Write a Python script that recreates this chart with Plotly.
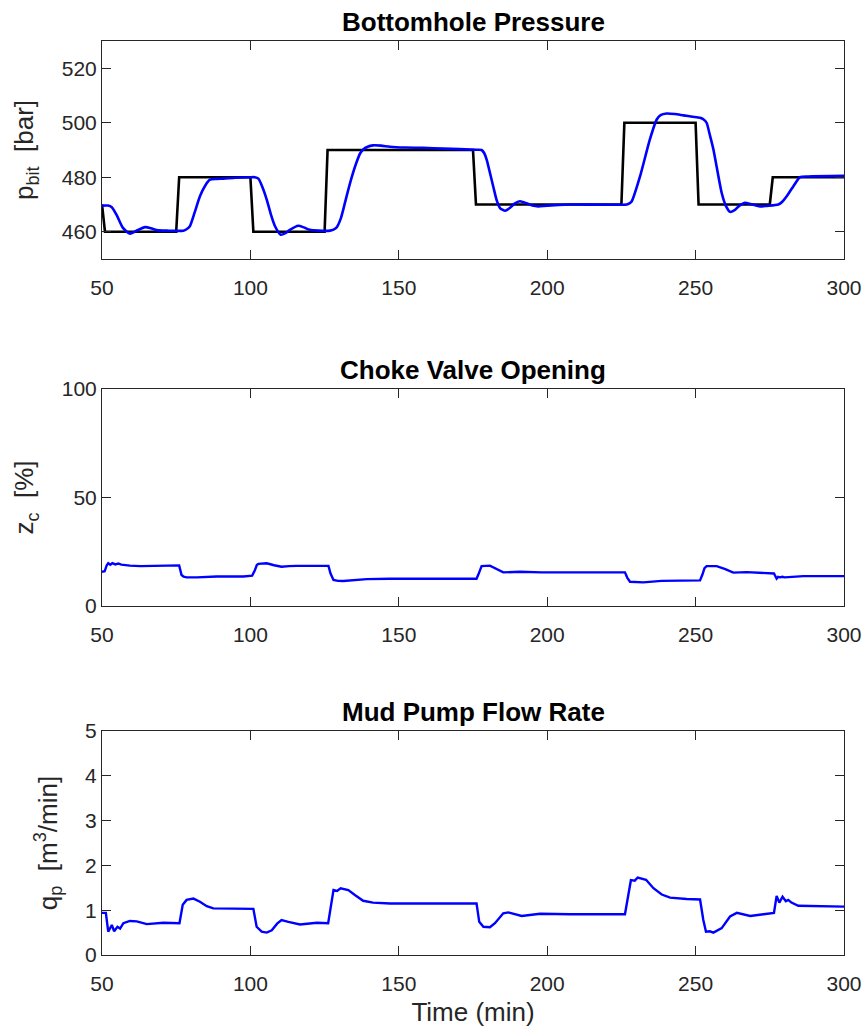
import plotly.graph_objects as go

# ---------------- data ----------------
t_ref = [50, 51, 75, 76, 100, 101, 125, 126, 175, 176, 225, 226, 250, 251, 275, 276, 300]
p_ref = [470, 460, 460, 480, 480, 460, 460, 490, 490, 470, 470, 500, 500, 470, 470, 480, 480]

t_pbit = [50, 52, 53.3, 55, 57, 59.4, 61.5, 64.5, 66.5, 68.4, 72, 77.4, 78.6, 79.6, 81.2, 83,
          84.8, 86.4, 88.5, 90.9, 95, 99.9, 101.5, 102.7, 104, 105.5, 107, 108.3, 110.2, 111.8,
          113.3, 116.1, 118, 120, 123, 126.8, 128, 129, 130.5, 132.4, 134, 135.7, 137, 138,
          139.5, 141.3, 144, 147, 152, 158.2, 165, 176.2, 177.9, 178.8, 179.6, 181.8, 183,
          184.1, 185.8, 187.5, 189, 190.8, 193, 195, 197, 200, 207.7, 226.8, 227.7, 228.5,
          231.3, 234.6, 236.9, 238.2, 240.2, 243, 245.9, 249, 251.5, 252.7, 253.7, 254.8, 256,
          258.8, 260.2, 261.6, 263, 264.8, 266.6, 268.5, 271.7, 274, 277.9, 279.2, 280.7, 283,
          285.2, 288, 300]
pbit = [469.6, 469.6, 469.0, 466, 461.5, 459.3, 460.3, 461.7, 461.3, 460.6, 460.4, 460.4, 461,
        462, 467, 473, 477, 479.1, 479.4, 479.5, 479.8, 480, 480, 479.5, 476.5, 471.8, 466, 462,
        458.9, 459.5, 460.7, 462.2, 461.6, 460.7, 460.4, 460.4, 460.8, 461.5, 465, 473, 479.5,
        485.3, 488.8, 490.2, 491.2, 491.7, 491.6, 491.2, 490.9, 490.8, 490.5, 490.1, 490, 488.8,
        486.5, 476.7, 471.5, 468.7, 467.7, 468.8, 470.3, 471.2, 470.5, 469.6, 469.3, 469.6, 470,
        470, 470.4, 471.2, 480.4, 493.9, 501.2, 502.8, 503.4, 503.2, 502.7, 502.2, 501.8, 501.2,
        500, 495.5, 490.2, 474.2, 469.5, 467.3, 467.8, 469.6, 470.6, 470.2, 469.3, 469.5, 470,
        471, 473, 476.8, 480, 480.3, 480.5]

t_zc = [50, 50.9, 51.6, 52.1, 52.8, 53.5, 54.5, 55.5, 56.5, 59.4, 63, 68.4, 72, 76, 76.5, 76.8,
        77.5, 78.5, 82, 85, 88.6, 97.6, 100.6, 101.5, 102.2, 102.7, 105.5, 108, 110.5, 113,
        115.6, 126.3, 127, 128, 129.5, 131.3, 135, 139.2, 147, 176.2, 176.8, 177.5, 177.9, 180.7,
        183, 185.2, 190.8, 198.1, 226.2, 227, 227.9, 232.4, 238.5, 251.5, 252.3, 253, 253.7,
        257.1, 260, 262.7, 267.2, 272, 276.4, 277.3, 277.8, 278.4, 279.2, 280, 283, 286.3, 300]
zc = [15.8, 16, 18.8, 19.7, 19.0, 19.8, 19.2, 19.6, 19.1, 18.6, 18.4, 18.7, 18.6, 18.7, 16.5,
      14.3, 13.5, 13.2, 13.2, 13.4, 13.6, 13.6, 14, 16.5, 19.0, 19.4, 19.7, 18.8, 18.1, 18.4,
      18.5, 18.5, 15, 12, 11.6, 11.5, 12, 12.4, 12.6, 12.6, 14.5, 17.5, 18.4, 18.6, 17.2, 15.5,
      15.8, 15.5, 15.5, 13, 11.2, 10.9, 11.6, 11.8, 14.5, 17.5, 18.4, 18.4, 17, 15.4, 15.6, 15.2,
      15, 12.6, 13.4, 13.2, 13.5, 13.2, 13.6, 13.8, 13.8]

t_qp = [50, 51.3, 52.1, 53.3, 54.1, 55.2, 56.1, 57.2, 59.4, 61.7, 65.1, 70.7, 76.1, 77.2, 78.5,
        80.8, 83, 85.3, 87.5, 95, 101, 102.1, 103.8, 105.5, 107.2, 109, 110.5, 112.8, 116.7,
        122.4, 126.2, 128, 129.2, 130.4, 133, 135.2, 138, 141.3, 147, 176.2, 177.1, 178.5, 180.7,
        182.4, 185.2, 186.9, 191.4, 197.6, 207.7, 226.2, 228.2, 229.5, 230.5, 233.3, 235.8,
        238.6, 241.4, 247, 251.5, 252.6, 253.5, 254.8, 256, 258.8, 261.6, 263.9, 268.4, 272.9,
        276.4, 277.3, 278.2, 279.3, 280.4, 281.2, 282.3, 284.6, 291.9, 300]
qp = [0.94, 0.94, 0.52, 0.67, 0.53, 0.63, 0.59, 0.71, 0.76, 0.75, 0.69, 0.72, 0.71, 1.12, 1.23,
      1.26, 1.19, 1.09, 1.04, 1.04, 1.03, 0.63, 0.52, 0.5, 0.55, 0.7, 0.78, 0.74, 0.68, 0.72,
      0.71, 1.45, 1.43, 1.49, 1.45, 1.34, 1.21, 1.17, 1.15, 1.15, 0.74, 0.63, 0.62, 0.71, 0.93,
      0.95, 0.87, 0.92, 0.91, 0.91, 1.67, 1.66, 1.73, 1.68, 1.49, 1.35, 1.28, 1.25, 1.24, 0.78,
      0.52, 0.53, 0.5, 0.6, 0.86, 0.94, 0.87, 0.91, 0.94, 1.32, 1.17, 1.3, 1.2, 1.23, 1.17, 1.1,
      1.09, 1.08]

x_ticks = [50, 100, 150, 200, 250, 300]
titles = ["Bottomhole Pressure", "Choke Valve Opening", "Mud Pump Flow Rate"]
ylabels = ["p<sub>bit</sub>  [bar]", "z<sub>c</sub>  [%]", "q<sub>p</sub>  [m<sup>3</sup>/min]"]

# ---------------- styling ----------------
FONT = "Liberation Sans, Arial, Helvetica, sans-serif"
AX = "#262626"
BLUE = "#0000FF"

fig = go.Figure()
fig.add_trace(go.Scatter(x=t_ref, y=p_ref, mode="lines", line=dict(color="black", width=2.6),
                         xaxis="x", yaxis="y", showlegend=False))
fig.add_trace(go.Scatter(x=t_pbit, y=pbit, mode="lines",
                         line=dict(color=BLUE, width=2.6, shape="spline", smoothing=0.6),
                         xaxis="x", yaxis="y", showlegend=False))
fig.add_trace(go.Scatter(x=t_zc, y=zc, mode="lines", line=dict(color=BLUE, width=2.4),
                         xaxis="x2", yaxis="y2", showlegend=False))
fig.add_trace(go.Scatter(x=t_qp, y=qp, mode="lines", line=dict(color=BLUE, width=2.4),
                         xaxis="x3", yaxis="y3", showlegend=False))

doms = [[0.7615, 1.0], [0.3818, 0.6193], [0.0, 0.2451]]
yranges = [[450, 530], [0, 100], [0, 5]]
yticks = [[460, 480, 500, 520], [0, 50, 100], [0, 1, 2, 3, 4, 5]]

common_axis = dict(showline=True, linecolor=AX, linewidth=1, mirror="ticks",
                   ticks="inside", ticklen=9, tickwidth=1, tickcolor=AX,
                   showgrid=False, zeroline=False, automargin=False,
                   tickfont=dict(family=FONT, size=21, color=AX))

layout = dict(
    width=867, height=1030,
    margin=dict(l=102, r=23, t=41, b=75, autoexpand=False),
    paper_bgcolor="white", plot_bgcolor="white",
    font=dict(family=FONT, color=AX),
    annotations=[],
)

for i in range(3):
    sx = "" if i == 0 else str(i + 1)
    xa = dict(common_axis, domain=[0, 1], range=[50, 300], tickvals=x_ticks,
              anchor="y" + sx, ticklabelstandoff=10)
    if i == 2:
        xa["title"] = dict(text="Time (min)", font=dict(family=FONT, size=26, color=AX), standoff=8)
    ya = dict(common_axis, domain=doms[i], range=yranges[i], tickvals=yticks[i],
              anchor="x" + sx,
              title=dict(text=ylabels[i], font=dict(family=FONT, size=26, color=AX), standoff=20))
    layout["xaxis" + sx] = xa
    layout["yaxis" + sx] = ya
    layout["annotations"].append(dict(
        text="<b>" + titles[i] + "</b>", x=0.5, xref="paper", y=doms[i][1], yref="paper",
        xanchor="center", yanchor="bottom", yshift=2, showarrow=False,
        font=dict(family=FONT, size=26, color="black")))

fig.update_layout(**layout)
fig.write_html("out.html")
